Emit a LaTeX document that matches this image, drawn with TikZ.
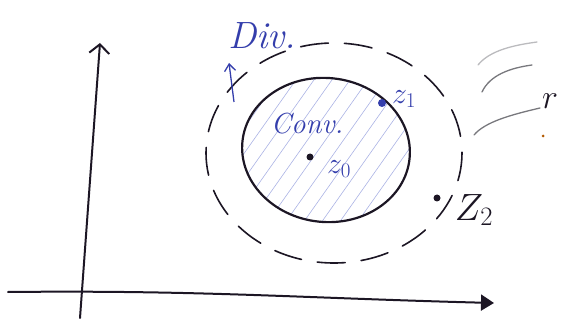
\RequirePackage{fix-cm}
\documentclass[tikz,border=0pt]{standalone}
\usepackage{tikz}
\usetikzlibrary{arrows.meta,positioning,calc}
\usepackage{xcolor}
\definecolor{inkblue}{RGB}{52,62,172}
\definecolor{inkblack}{RGB}{28,22,36}
\definecolor{hatchblue}{RGB}{170,178,228}
\definecolor{pencilgray}{RGB}{120,120,125}

\begin{document}
\begin{tikzpicture}[
    x=1pt,
    y=-1pt,
    axisline/.style={draw=inkblack,line width=2pt,line cap=round},
    vaxis/.style={-{Straight Barb[length=9pt,width=20pt,line width=2pt]}},
    haxis/.style={-{Triangle[length=13pt,width=16pt]}},
    region/.style={draw=inkblack,line width=2.2pt},
    borderline/.style={draw=inkblack,line width=1.6pt,dash pattern=on 28pt off 16pt,line cap=round},
    hatchline/.style={draw=hatchblue,line width=0.6pt},
    point/.style={circle,fill=inkblack,minimum size=7pt,inner sep=0pt},
    bluepoint/.style={circle,fill=inkblue,minimum size=8pt,inner sep=0pt},
    bluetext/.style={text=inkblue,font=\itshape\fontsize{29}{29}\selectfont},
    zlabel/.style={text=inkblue,font=\fontsize{30}{30}\selectfont},
    blacktext/.style={text=inkblack,font=\fontsize{38}{38}\selectfont},
    divarrow/.style={-{Straight Barb[length=7pt,width=11pt]},draw=inkblue,line width=1.3pt},
    stroke/.style={draw=pencilgray,line width=1.3pt,line cap=round}
  ]
    \useasboundingbox (0,0) rectangle (568,326);

    % axes
    \coordinate (xstart) at (8,292);
    \coordinate (xend) at (494,303);
    \coordinate (ystart) at (80,318);
    \coordinate (yend) at (100,43);
    \draw[axisline,haxis] (xstart) .. controls (200,290) and (300,298) .. (xend);
    \draw[axisline,vaxis] (ystart) -- (yend);

    % convergence region
    \coordinate (center) at (326,150);
    \begin{scope}
      \clip[rotate around={-6:(center)}] (center) ellipse [x radius=84, y radius=72];
      \foreach \s in {-200,-182,...,220} {
        \draw[hatchline] ($(center)+(\s-80,80)$) -- ($(center)+(\s+40,-90)$);
      }
    \end{scope}
    \draw[region,rotate around={-6:(center)}] (center) ellipse [x radius=84, y radius=72];

    % divergence border
    \draw[borderline] (334,153) ellipse [x radius=128, y radius=110];

    % points
    \node[point] (z0) at (310,157) {};
    \node[bluepoint] (z1) at (382,103) {};
    \node[point] (z2) at (437,198) {};
    \node[zlabel] (z0label) at (339,169) {$z_0$};
    \node[zlabel] (z1label) at (404,99) {$z_1$};
    \node[blacktext] (z2label) at (474,210) {$Z_2$};

    % labels
    \node[bluetext,font=\itshape\fontsize{38}{38}\selectfont,fill=white,inner sep=1pt] (div) at (262,36) {Div.};
    \node[bluetext] (conv) at (307,124) {Conv.};
    \coordinate (divfoot) at (234,102);
    \coordinate (divtip) at (229,63);
    \draw[divarrow] (divfoot) -- (divtip);

    % right hand strokes
    \draw[stroke,draw=pencilgray!50] (478,65) .. controls (490,50) and (515,45) .. (537,42);
    \draw[stroke] (482,92) .. controls (490,75) and (510,68) .. (532,65);
    \draw[stroke] (474,135) .. controls (485,122) and (510,115) .. (540,108);
    \node[text=inkblack,font=\itshape\fontsize{34}{34}\selectfont] (rlabel) at (550,101) {$r$};
    \node[circle,fill=orange!70!black,minimum size=3pt,inner sep=0pt] (dot) at (543,136) {};
  \end{tikzpicture}
\end{document}
